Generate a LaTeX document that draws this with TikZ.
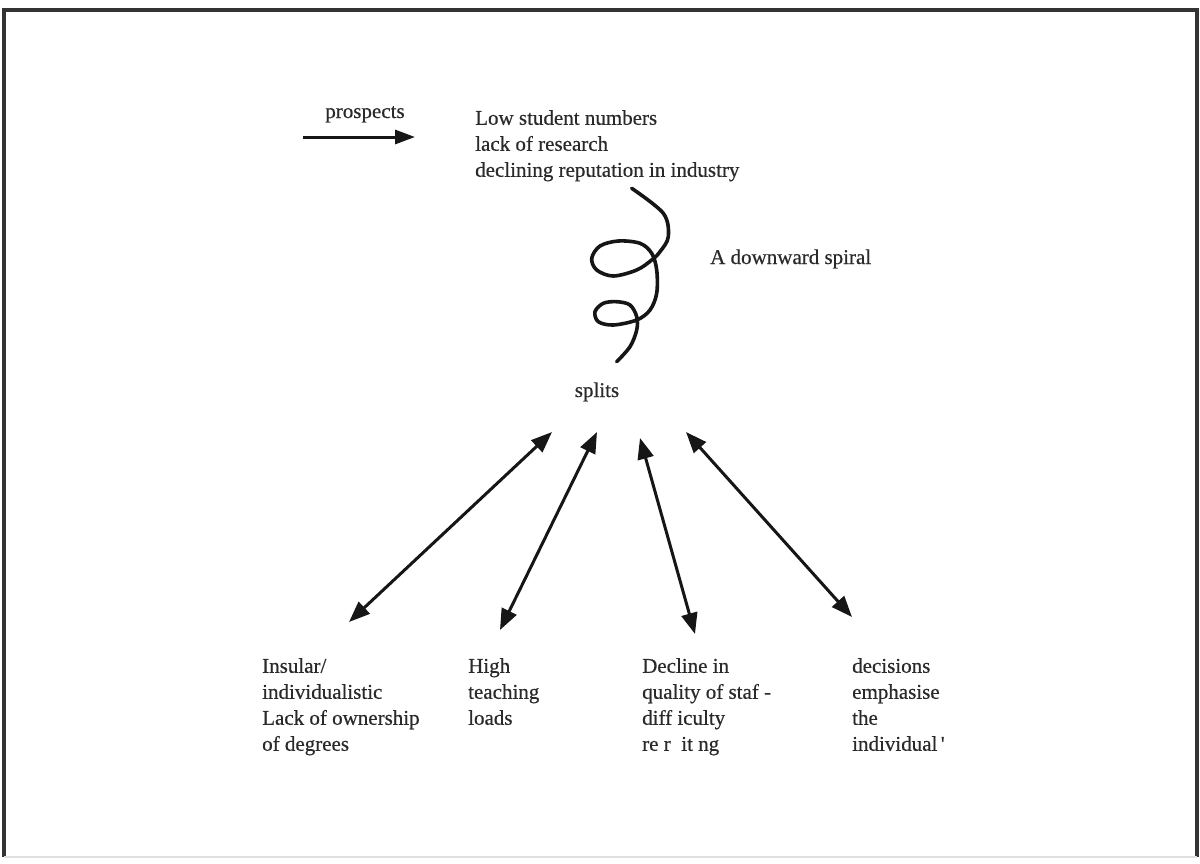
\documentclass[tikz,border=0pt]{standalone}
\usepackage{fontspec}
\setmainfont{Liberation Serif}
\newfontfamily\labelfont[FakeBold=0.45]{Liberation Serif}
\usetikzlibrary{arrows.meta}
\definecolor{ink}{HTML}{161616}
\definecolor{txt}{HTML}{2A2A2A}
\definecolor{frameline}{HTML}{333333}
\definecolor{framefaint}{HTML}{E0E0E0}
\begin{document}
\begin{tikzpicture}[x=1pt,y=-1pt,
  lbl/.style={inner sep=0pt,text=txt,align=left,font=\labelfont\fontsize{21}{26}\selectfont},
  twoway/.style={ink,line width=3pt,{Triangle[length=21pt,width=16pt]}-{Triangle[length=21pt,width=16pt]}},
  oneway/.style={ink,line width=3pt,-{Triangle[length=20pt,width=14pt]}},
  coil/.style={ink,line width=3.6pt,line cap=round,line join=round}]
\useasboundingbox (0,0) rectangle (1200,863);
\fill[white] (0,0) rectangle (1200,863);
% page frame
\draw[frameline,line width=3.6pt] (4,857) -- (4,10) -- (1197,10) -- (1197,857);
\draw[framefaint,line width=2pt] (4,857) -- (1197,857);

% heading: prospects -> consequences
\node[lbl,anchor=base] (prosp) at (365,118) {prospects};
\coordinate (pa) at (303,137);
\coordinate (pb) at (415,137);
\draw[oneway] (pa) -- (pb);
\node[lbl,anchor=north west] (low) at (475,110) {Low student numbers\\lack of research\\declining reputation in industry};

% the downward spiral
\draw[coil] plot[smooth,tension=0.55] coordinates {
 (631.7,188.3) (663.3,213.3) (668.3,236.7) (660,251.7) (651.7,260)
 (636.7,270) (613.3,276) (596.7,270) (591.7,258.3) (600,246)
 (618.3,241) (640,243.3) (651.7,253.3) (656.7,270) (656.7,293.3)
 (650,310) (636.7,320) (613.3,325) (598.3,321.7) (595,311.7)
 (603.3,303.3) (616.7,301.7) (630,305) (636.7,316.7) (636.7,330)
 (630,346.7) (616.7,361.7)};
\node[lbl,anchor=base west] (spiral) at (710,264) {A downward spiral};
\node[lbl,anchor=base] (splits) at (597,397) {splits};

% effects of the splits
\node[lbl,anchor=north west] (insular) at (262,658) {Insular/\\individualistic\\Lack of ownership\\of degrees};
\node[lbl,anchor=north west] (high) at (468,658) {High\\teaching\\loads};
\node[lbl,anchor=north west] (decline) at (642,658) {Decline in\\quality of staf -\\diff iculty\\re r\ \ it ng};
\node[lbl,anchor=north west] (decis) at (852,658) {decisions\\emphasise\\the\\individual\,\char"27};

\coordinate (t1) at (552,432); \coordinate (b1) at (349,622);
\coordinate (t2) at (597,432); \coordinate (b2) at (500,630);
\coordinate (t3) at (640,438); \coordinate (b3) at (695,634);
\coordinate (t4) at (686,432); \coordinate (b4) at (852,617);
\draw[twoway] (t1) -- (b1);
\draw[twoway] (t2) -- (b2);
\draw[twoway] (t3) -- (b3);
\draw[twoway] (t4) -- (b4);
\end{tikzpicture}
\end{document}
